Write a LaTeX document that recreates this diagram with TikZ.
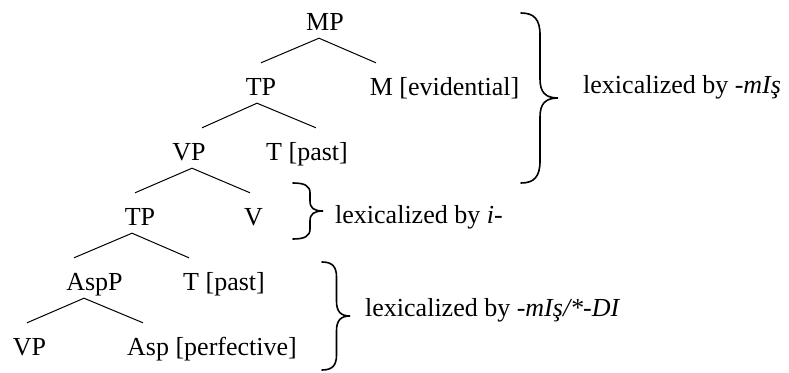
\documentclass[tikz,border=0pt]{standalone}
\usepackage{fontspec}
\setmainfont{Liberation Serif}
\begin{document}
\begin{tikzpicture}
[x=1pt,y=-1pt,font=\fontsize{26}{31}\selectfont,
  nodedecorate/.style={inner sep=0pt,text height=32pt,text depth=8pt,anchor=base},%
  notedecorate/.style={inner sep=0pt,anchor=base west},%
  linedecorate/.style={-,line width=1pt},%
  bracedecorate/.style={line width=1.6pt,line cap=round}]
\useasboundingbox (0,0) rectangle (789,372);
%% nodes of the tree
\foreach \nodename/\x/\y/\nodetext in {mp/325/30/MP, tpa/261/95/TP,
  m/444.5/95/{M [evidential]}, vpa/189/160/VP, ta/307/160/{T [past]},
  tpb/140/225/TP, v/253.5/225/V, aspp/94.5/290/AspP, tb/224/290/{T [past]},
  vpb/29.5/355/VP, asp/212/355/{Asp [perfective]}} {
  \node (\nodename) at (\x,\y) [nodedecorate] {\nodetext};
}
%% branches
\foreach \startnode/\startshift/\endnode/\endshift in {mp/-6/tpa/0,
  mp/-6/m/-68.5, tpa/-4/vpa/13, tpa/-4/ta/9, vpa/3/tpb/-5, vpa/3/v/-3.5,
  tpb/-8/aspp/-20.5, tpb/-8/tb/-35, aspp/-10.5/vpb/-2.5,
  aspp/-10.5/asp/-69} {
  \draw[linedecorate] ([xshift=\startshift pt]\startnode.south)
    -- ([xshift=\endshift pt]\endnode.north);
}
%% braces
\foreach \xe/\xv/\xt/\yt/\yb/\r/\rt in {521/540/558/13/183/22/19,
  293/310/323/183/239/10/10, 322/336.5/350/262/370/15/15} {
  \pgfmathsetmacro{\ym}{(\yt+\yb)/2}
  \draw[bracedecorate] (\xe,\yt)
    .. controls ({\xe+0.7*(\xv-\xe)},\yt) and (\xv,{\yt+0.3*\r}) .. (\xv,\yt+\r)
    -- (\xv,\ym-\rt)
    .. controls (\xv,{\ym-0.3*\rt}) and ({\xt-0.7*(\xt-\xv)},\ym) .. (\xt,\ym)
    .. controls ({\xt-0.7*(\xt-\xv)},\ym) and (\xv,{\ym+0.3*\rt}) .. (\xv,\ym+\rt)
    -- (\xv,\yb-\r)
    .. controls (\xv,{\yb-0.3*\r}) and ({\xe+0.7*(\xv-\xe)},\yb) .. (\xe,\yb);
}
%% labels
\node (lexm) at (583,93.5) [notedecorate] {lexicalized by \textit{-mIş}};
\node (lexi) at (335,223.5) [notedecorate] {lexicalized by \textit{i-}};
\node (lexd) at (365,316) [notedecorate] {lexicalized by \textit{-mIş/*-DI}};
\end{tikzpicture}
\end{document}
